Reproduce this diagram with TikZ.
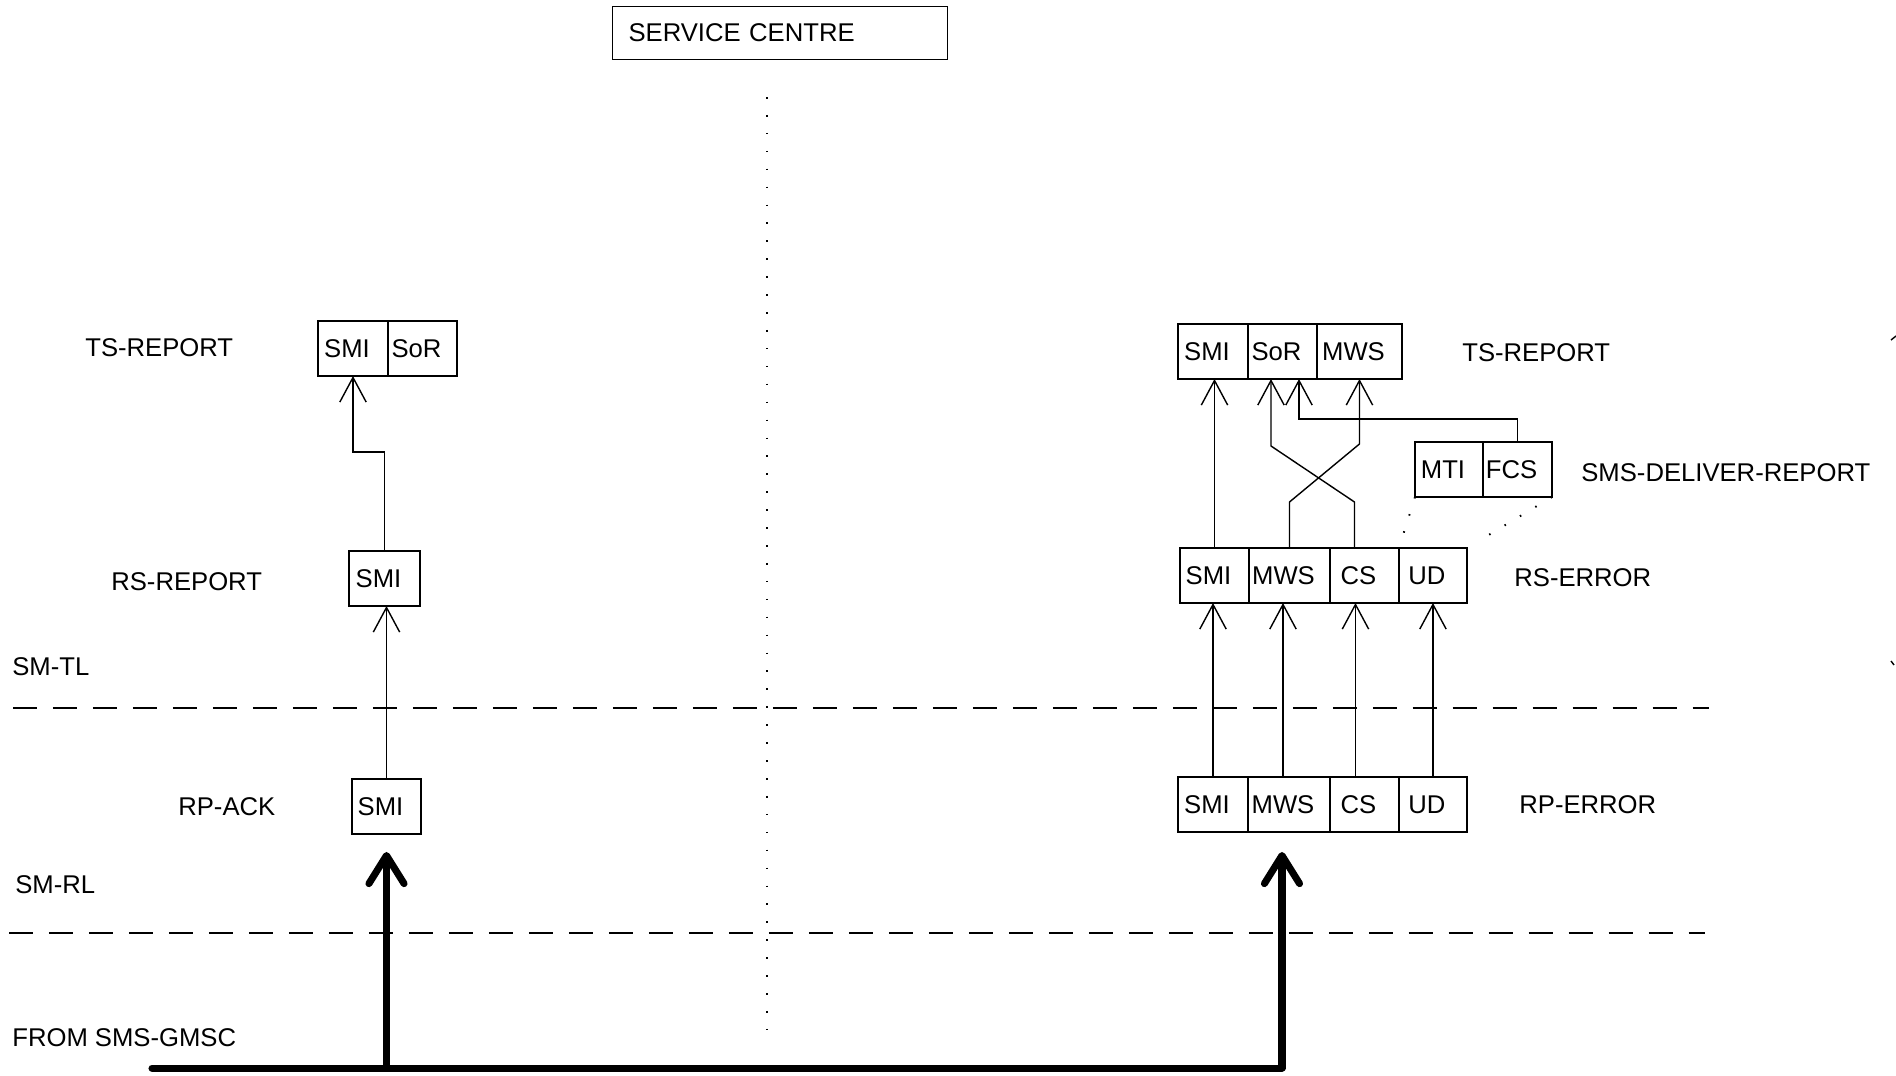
\documentclass[tikz,border=0pt]{standalone}
\usepackage{fontspec}
\setmainfont{Liberation Sans}
\usetikzlibrary{positioning,calc,arrows.meta}
\tikzset{
  field/.style={draw,line width=1.5pt,outer sep=0pt,inner sep=1pt,minimum width=#1,minimum height=1.1cm,execute at begin node=\kern-0.24cm},
  lbl/.style={anchor=west,inner sep=0pt},
  conn/.style={line width=0.8pt,-{Straight Barb[length=14pt,width=15pt]}},
  feed/.style={line width=4pt,line cap=round,line join=round,-{Straight Barb[round,length=16pt,width=20pt]}},
  layer/.style={line width=0.8pt,dash pattern=on 0.48cm off 0.32cm},
  dots/.style={line width=1.1pt,dash pattern=on 0.9pt off 9.3pt}
}
\begin{document}
\begin{tikzpicture}[x=0.02cm,y=-0.02cm,font=\fontsize{14.6pt}{17.5pt}\selectfont]
\useasboundingbox (0,0) rectangle (1896,1075);
\node[draw,line width=0.6pt,anchor=north west,minimum height=1.06cm,text width=6.06cm,inner xsep=0.32cm,align=left] (sc) at (612,6) {SERVICE CENTRE};
\draw[dots] (767,97) -- (767,1037);
\draw[layer] (13,708) -- (1709,708);
\draw[layer] (9,933) -- (1705,933);
\node[lbl] (tsl) at (85,348) {TS-REPORT};
\node[lbl] (rsrl) at (111,582) {RS-REPORT};
\node[lbl] (smtl) at (12,667) {SM-TL};
\node[lbl] (rackl) at (178,807) {RP-ACK};
\node[lbl] (smrl) at (15,885) {SM-RL};
\node[lbl] (gmscl) at (12,1038) {FROM SMS-GMSC};
\node[lbl] (tsr) at (1462,353) {TS-REPORT};
\node[lbl] (sdr) at (1581,473) {SMS-DELIVER-REPORT};
\node[lbl] (rser) at (1514,578) {RS-ERROR};
\node[lbl] (rper) at (1519,805) {RP-ERROR};
\node[field=1.4cm,anchor=north west] (lts1) at (318,321) {SMI};
\node[field=1.38cm,right=0pt of lts1] (lts2) {SoR};
\node[field=1.42cm,anchor=north west] (rsr) at (349,551) {SMI};
\node[field=1.38cm,anchor=north west] (rack) at (352,779) {SMI};
\draw[conn] (rsr.north) -- ++(0,-99) -| (lts1.south);
\draw[conn] (rack.north) -- (rack.north |- rsr.south);
\node[field=1.4cm,anchor=north west] (rts1) at (1178,324) {SMI};
\node[field=1.38cm,right=0pt of rts1] (rts2) {SoR};
\node[field=1.7cm,right=0pt of rts2] (rts3) {MWS};
\node[field=1.36cm,anchor=north west] (rdr1) at (1415,442) {MTI};
\node[field=1.38cm,right=0pt of rdr1] (rdr2) {FCS};
\node[field=1.38cm,anchor=north west] (rse1) at (1180,548) {SMI};
\node[field=1.62cm,right=0pt of rse1] (rse2) {MWS};
\node[field=1.38cm,right=0pt of rse2] (rse3) {CS};
\node[field=1.36cm,right=0pt of rse3] (rse4) {UD};
\node[field=1.4cm,anchor=north west] (rpe1) at (1178,777) {SMI};
\node[field=1.64cm,right=0pt of rpe1] (rpe2) {MWS};
\node[field=1.38cm,right=0pt of rpe2] (rpe3) {CS};
\node[field=1.36cm,right=0pt of rpe3] (rpe4) {UD};
\draw[conn] (rse1.north) -- (rse1.north |- rts1.south);
\draw[conn] ([xshift=-0.2cm]rse3.north) -- ++(0,-46) -- ([xshift=-0.23cm,yshift=-1.34cm]rts2.south) -- ([xshift=-0.23cm]rts2.south);
\draw[conn] (rse2.north) -- ++(0,-46) -- ([yshift=-1.3cm]rts3.south) -- (rts3.south);
\draw[conn] (rdr2.north) -- ++(0,-23) -| ([xshift=0.33cm]rts2.south);
\draw[dots] (rdr1.south west) -- ($(rdr1.south west)!0.78!(rse4.north west)$);
\draw[dots] (rdr2.south east) -- ($(rdr2.south east)!0.9!(rse4.north east)$);
\draw[conn] (rpe1.north) -- (rpe1.north |- rse1.south);
\coordinate (m2) at ([xshift=-0.12cm]rpe2.north);
\coordinate (m3) at ([xshift=-0.18cm]rpe3.north);
\draw[conn] (m2) -- (m2 |- rse2.south);
\draw[conn] (m3) -- (m3 |- rse3.south);
\draw[conn] (rpe4.north) -- (rpe4.north |- rse4.south);
\coordinate (gmsc) at (152,1068);
\coordinate (tipL) at ([yshift=-0.36cm]rack.south);
\coordinate (tipR) at ([xshift=-0.14cm,yshift=-0.4cm]rpe2.south);
\draw[feed] (gmsc) -| (tipR);
\draw[feed] (gmsc -| tipL) -- (tipL);
\draw[line width=0.8pt] (1891,340) -- (1896,336);
\draw[line width=0.8pt] (1891,661) -- (1894,665);
\end{tikzpicture}
\end{document}
